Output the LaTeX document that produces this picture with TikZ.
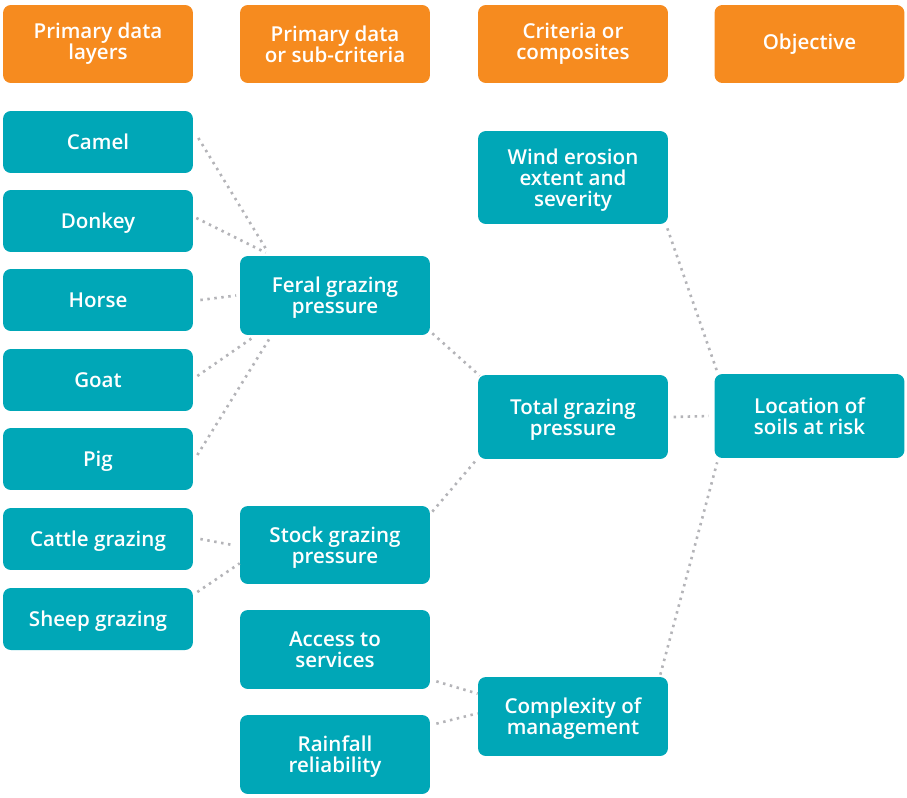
\documentclass[tikz,border=0pt]{standalone}
\usepackage{fontspec}
\setmainfont{Open Sans}[UprightFont=* Semibold]
\usepackage{tikz}
\usetikzlibrary{backgrounds}

\definecolor{hdrorange}{HTML}{F68B1F}
\definecolor{boxteal}{HTML}{00A7B7}
\definecolor{linkgray}{HTML}{B4B4B8}

\begin{document}
\begin{tikzpicture}[
            x=0.02cm, y=-0.02cm,
            hdr/.style={fill=hdrorange, rounded corners=4.5pt, minimum width=3.8cm, minimum height=1.56cm,
                text=white, font=\fontsize{11.7}{11.8}\selectfont, align=center, inner sep=0pt},
            box/.style={fill=boxteal, rounded corners=4.5pt, minimum width=3.8cm, minimum height=1.24cm,
                text=white, font=\fontsize{11.7}{12}\selectfont, align=center, inner sep=0pt, text depth=0pt},
            link/.style={draw=linkgray, line width=1.5pt, dash pattern=on 1.4pt off 2.6pt},
        ]
            \useasboundingbox (0,0) rectangle (907,798);

            % column headings
            \node[hdr] (h1) at (98,44) {Primary data\\layers};
            \node[hdr] (h2) at (335,44) {Primary data\\or sub-criteria};
            \node[hdr] (h3) at (573,44) {Criteria or\\composites};
            \node[hdr] (h4) at (809.5,44) {Objective};

            % primary data layers
            \foreach \n/\t/\y in {camel/Camel/142, donkey/Donkey/221, horse/Horse/300, goat/Goat/380,
                    pig/Pig/459, cattle/Cattle grazing/539, sheep/Sheep grazing/619}{
                \node[box] (\n) at (98,\y) {\t};
            }

            % sub-criteria
            \node[box, minimum height=1.58cm] (feral) at (335,295.5) {Feral grazing\\pressure};
            \node[box, minimum height=1.56cm] (stock) at (335,545) {Stock grazing\\pressure};
            \node[box, minimum height=1.58cm] (access) at (335,649.5) {Access to\\services};
            \node[box, minimum height=1.58cm] (rain) at (335,754.5) {Rainfall\\reliability};

            % criteria
            \node[box, minimum height=1.86cm] (wind) at (573,177.5) {Wind erosion\\extent and\\severity};
            \node[box, minimum height=1.68cm] (total) at (573,417) {Total grazing\\pressure};
            \node[box, minimum height=1.58cm] (cplx) at (573,716.5) {Complexity of\\management};

            % objective
            \node[box, minimum height=1.68cm] (soils) at (809.5,416) {Location of\\soils at risk};

            % feral animals into feral grazing pressure
            \draw[link] ([shift={(5,-4)}]camel.east) -- ([shift={(28,-4)}]feral.north west);
            \draw[link] ([shift={(3,-3)}]donkey.east) -- ([shift={(26,-3)}]feral.north west);
            \draw[link] ([xshift=4]horse.east) -- ([xshift=-2]feral.west);
            \draw[link] ([shift={(4,-4)}]goat.east) -- ([shift={(12,3)}]feral.south west);
            \draw[link] ([shift={(4,-4)}]pig.east) -- ([shift={(30,3)}]feral.south west);

            % livestock into stock grazing pressure
            \draw[link] ([xshift=4]cattle.east) -- ([xshift=-4]stock.west);
            \draw[link] ([shift={(4,-27)}]sheep.east) -- ([shift={(0,-21)}]stock.south west);

            % up to the criteria
            \draw[link] ([shift={(2,-2)}]feral.south east) -- ([shift={(2,1)}]total.north west);
            \draw[link] ([shift={(2,6)}]stock.north east) -- ([shift={(0,-1)}]total.south west);
            \draw[link] ([shift={(6,-8)}]access.south east) -- ([shift={(0,17)}]cplx.north west);
            \draw[link] ([shift={(6,9)}]rain.north east) -- ([shift={(0,-43)}]cplx.south west);

            % and to the objective
            \draw[link] ([xshift=3]total.east) -- ([xshift=-3]soils.west);
            \draw[link] ([shift={(-1,4)}]wind.south east) -- ([shift={(3,-2)}]soils.north west);
            \draw[link] ([shift={(-8,-2)}]cplx.north east) -- ([shift={(3,4)}]soils.south west);
        \end{tikzpicture}
\end{document}
